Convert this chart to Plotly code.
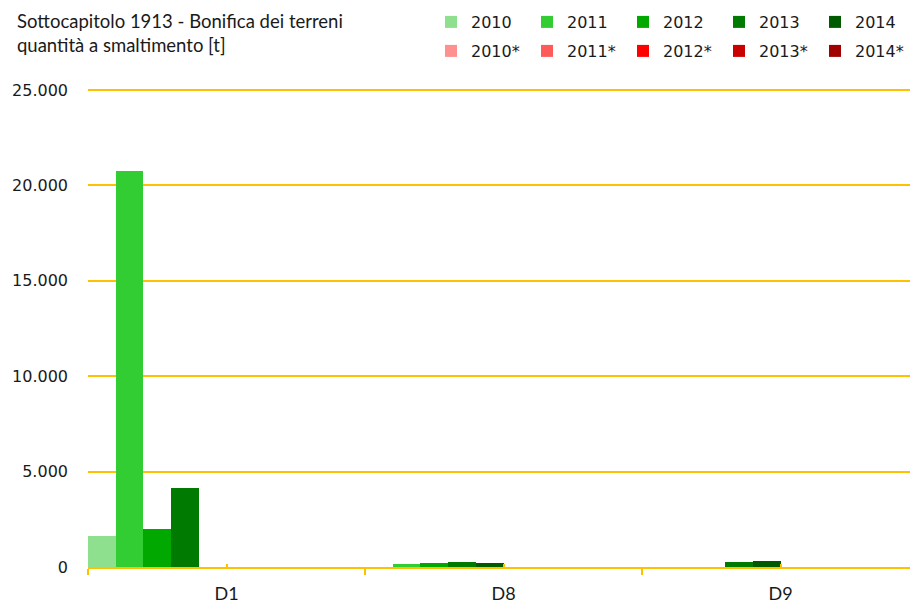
import plotly.graph_objects as go

# Disposal categories
categories = ["D1", "D8", "D9"]

# Quantities sent to disposal [t] per year
values_2010 = [1650, 0, 0]
values_2011 = [20750, 140, 0]
values_2012 = [2000, 230, 0]
values_2013 = [4150, 280, 280]
values_2014 = [0, 230, 330]

# Starred series (no quantities recorded)
values_2010s = [0, 0, 0]
values_2011s = [0, 0, 0]
values_2012s = [0, 0, 0]
values_2013s = [0, 0, 0]
values_2014s = [0, 0, 0]

green_names = ["2010", "2011", "2012", "2013", "2014"]
green_colors = ["#8EE08E", "#32CD32", "#00A800", "#007A00", "#005A00"]
green_values = [values_2010, values_2011, values_2012, values_2013, values_2014]

red_names = ["2010*", "2011*", "2012*", "2013*", "2014*"]
red_colors = ["#FF9090", "#FF5A5A", "#FF0000", "#C80000", "#A00000"]
red_values = [values_2010s, values_2011s, values_2012s, values_2013s, values_2014s]

GOLD = "#FFC000"
TXT = "#1a1a1a"

fig = go.Figure()
for name, color, vals in zip(green_names, green_colors, green_values):
    fig.add_trace(go.Bar(name=name, x=categories, y=vals, marker_color=color,
                         marker_line_width=0, legend="legend"))
for name, color, vals in zip(red_names, red_colors, red_values):
    fig.add_trace(go.Bar(name=name, x=categories, y=vals, marker_color=color,
                         marker_line_width=0, legend="legend2"))

# invisible helper trace on a twin axis that carries the small centre ticks
fig.add_trace(go.Scatter(x=categories, y=[0, 0, 0], xaxis="x2", mode="markers",
                         marker=dict(opacity=0), showlegend=False, hoverinfo="skip"))

legend_common = dict(
    orientation="h", xref="container", yref="container",
    xanchor="left", yanchor="top",
    font=dict(family="DejaVu Sans", size=16, color=TXT),
    entrywidth=51, entrywidthmode="pixels",
    bgcolor="rgba(0,0,0,0)", itemclick=False, itemdoubleclick=False,
    traceorder="normal",
)

# plot area: 0 at y=567 px, 25.000 at y=90 px
top_margin = 86
y_top = 25000 * (567 - top_margin) / 477
x_range = [-0.5, 2.4675]

fig.update_layout(
    width=910, height=603,
    margin=dict(l=88, r=0, t=top_margin, b=36),
    paper_bgcolor="white", plot_bgcolor="white",
    barmode="group", bargap=0, bargroupgap=0,
    showlegend=True,
    legend=dict(x=431 / 910, y=1 - 5 / 603, **legend_common),
    legend2=dict(x=431 / 910, y=1 - 34 / 603, **legend_common),
    xaxis=dict(
        type="category", range=x_range,
        showline=True, linecolor=GOLD, linewidth=2,
        ticks="outside", tickson="boundaries", ticklen=6, tickcolor=GOLD, tickwidth=2,
        showgrid=False, ticklabelstandoff=9,
        tickfont=dict(family="Lato", size=18, color=TXT),
    ),
    xaxis2=dict(
        type="category", range=x_range, overlaying="x", side="bottom",
        categoryorder="array", categoryarray=categories,
        ticks="inside", ticklen=3, tickcolor=GOLD, tickwidth=2,
        showticklabels=False, showgrid=False, showline=False, zeroline=False,
    ),
    yaxis=dict(
        range=[0, y_top], tickvals=[0, 5000, 10000, 15000, 20000, 25000],
        ticktext=["0", "5.000", "10.000", "15.000", "20.000", "25.000"],
        showgrid=True, gridcolor=GOLD, gridwidth=2,
        zeroline=False, showline=False, ticks="",
        ticklabelstandoff=19,
        tickfont=dict(family="DejaVu Sans", size=16, color=TXT),
    ),
    annotations=[
        dict(text="Sottocapitolo 1913 - Bonifica dei terreni<br>quantità a smaltimento [t]",
             xref="paper", yref="paper", x=(15 - 88) / 822, y=1 + (top_margin - 8) / (567 - top_margin),
             xanchor="left", yanchor="top",
             showarrow=False, align="left",
             font=dict(family="Lato", size=18.5, color=TXT)),
    ],
)

fig.write_html("out.html")
